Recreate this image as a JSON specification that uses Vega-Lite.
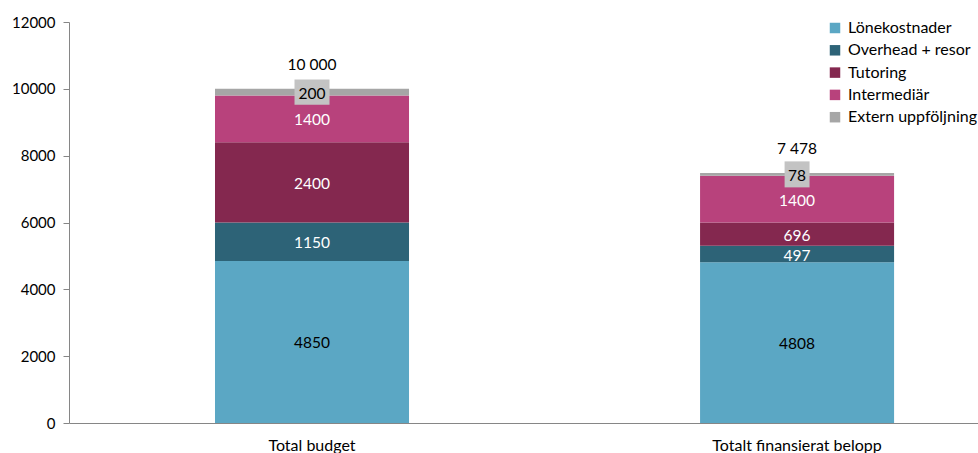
{
  "$schema": "https://vega.github.io/schema/vega-lite/v6.json",
  "width": 909,
  "height": 401,
  "autosize": {"type": "none"},
  "padding": {"left": 69, "top": 22, "right": 0, "bottom": 30},
  "background": "white",
  "config": {"font": "Lato", "view": {"stroke": null}, "axis": {"grid": false}},
  "datasets": {
    "parts": [
      {"cat": "Total budget", "k": "Lönekostnader", "o": 1, "v": 4850},
      {"cat": "Total budget", "k": "Overhead + resor", "o": 2, "v": 1150},
      {"cat": "Total budget", "k": "Tutoring", "o": 3, "v": 2400},
      {"cat": "Total budget", "k": "Intermediär", "o": 4, "v": 1400},
      {"cat": "Total budget", "k": "Extern uppföljning", "o": 5, "v": 200},
      {"cat": "Totalt finansierat belopp", "k": "Lönekostnader", "o": 1, "v": 4808},
      {"cat": "Totalt finansierat belopp", "k": "Overhead + resor", "o": 2, "v": 497},
      {"cat": "Totalt finansierat belopp", "k": "Tutoring", "o": 3, "v": 696},
      {"cat": "Totalt finansierat belopp", "k": "Intermediär", "o": 4, "v": 1400},
      {"cat": "Totalt finansierat belopp", "k": "Extern uppföljning", "o": 5, "v": 78}
    ],
    "totals": [
      {"cat": "Total budget", "total": 10000, "label": "10 000"},
      {"cat": "Totalt finansierat belopp", "total": 7478, "label": "7 478"}
    ]
  },
  "encoding": {
    "x": {
      "field": "cat",
      "type": "nominal",
      "sort": null,
      "scale": {"paddingInner": 0.6, "paddingOuter": 0.237, "align": 0.635},
      "axis": {
        "title": null,
        "labelAngle": 0,
        "ticks": false,
        "labelFontSize": 16,
        "labelColor": "#000000",
        "labelPadding": 14,
        "domainColor": "#868686",
        "domainWidth": 1
      }
    }
  },
  "layer": [
    {
      "data": {"name": "parts"},
      "mark": {"type": "bar"},
      "encoding": {
        "y": {
          "field": "v",
          "type": "quantitative",
          "stack": "zero",
          "scale": {"domain": [0, 12000]},
          "axis": {
            "title": null,
            "values": [0, 2000, 4000, 6000, 8000, 10000, 12000],
            "format": "d",
            "labelFontSize": 15,
            "labelColor": "#000000",
            "tickSize": 6,
            "tickColor": "#868686",
            "domainColor": "#868686",
            "labelPadding": 8
          }
        },
        "order": {"field": "o", "type": "quantitative", "sort": "ascending"},
        "color": {
          "field": "k",
          "type": "nominal",
          "sort": ["Lönekostnader", "Overhead + resor", "Tutoring", "Intermediär", "Extern uppföljning"],
          "scale": {
            "domain": ["Lönekostnader", "Overhead + resor", "Tutoring", "Intermediär", "Extern uppföljning"],
            "range": ["#5ba7c4", "#2d6377", "#84284f", "#b8427c", "#a6a6a6"]
          },
          "legend": {
            "title": null,
            "orient": "none",
            "legendX": 758,
            "legendY": -2,
            "symbolType": "square",
            "symbolSize": 110,
            "symbolStrokeWidth": 0,
            "labelFontSize": 16,
            "labelColor": "#000000",
            "labelOffset": 5,
            "rowPadding": 6.3
          }
        }
      }
    },
    {
      "data": {"name": "parts"},
      "transform": [
        {"stack": "v", "groupby": ["cat"], "sort": [{"field": "o"}], "as": ["y0", "y1"]},
        {"calculate": "(datum.y0 + datum.y1) / 2", "as": "mid"},
        {"filter": "datum.k === 'Extern uppföljning' && datum.cat === 'Total budget'"}
      ],
      "mark": {"type": "point", "filled": true, "color": "#c3c3c3", "opacity": 1, "shape": "M-1,-0.72H1V0.72H-1Z", "size": 1225},
      "encoding": {"y": {"field": "mid", "type": "quantitative"}}
    },
    {
      "data": {"name": "parts"},
      "transform": [
        {"stack": "v", "groupby": ["cat"], "sort": [{"field": "o"}], "as": ["y0", "y1"]},
        {"calculate": "(datum.y0 + datum.y1) / 2", "as": "mid"},
        {"filter": "datum.k === 'Extern uppföljning' && datum.cat !== 'Total budget'"}
      ],
      "mark": {"type": "point", "filled": true, "color": "#c3c3c3", "opacity": 1, "shape": "M-0.96,-1H0.96V1H-0.96Z", "size": 676},
      "encoding": {"y": {"field": "mid", "type": "quantitative"}}
    },
    {
      "data": {"name": "parts"},
      "transform": [
        {"stack": "v", "groupby": ["cat"], "sort": [{"field": "o"}], "as": ["y0", "y1"]},
        {"calculate": "(datum.y0 + datum.y1) / 2", "as": "mid"}
      ],
      "mark": {"type": "text", "fontSize": 15.5, "baseline": "middle", "align": "center", "dy": 1.5},
      "encoding": {
        "y": {"field": "mid", "type": "quantitative"},
        "text": {"field": "v", "type": "quantitative", "format": "d"},
        "color": {
          "condition": {"test": "datum.k === 'Lönekostnader' || datum.k === 'Extern uppföljning'", "value": "#000000"},
          "value": "#ffffff"
        }
      }
    },
    {
      "data": {"name": "totals"},
      "mark": {"type": "text", "fontSize": 15.5, "baseline": "middle", "align": "center", "dy": -24, "color": "#000000"},
      "encoding": {
        "y": {"field": "total", "type": "quantitative"},
        "text": {"field": "label", "type": "nominal"}
      }
    }
  ]
}
